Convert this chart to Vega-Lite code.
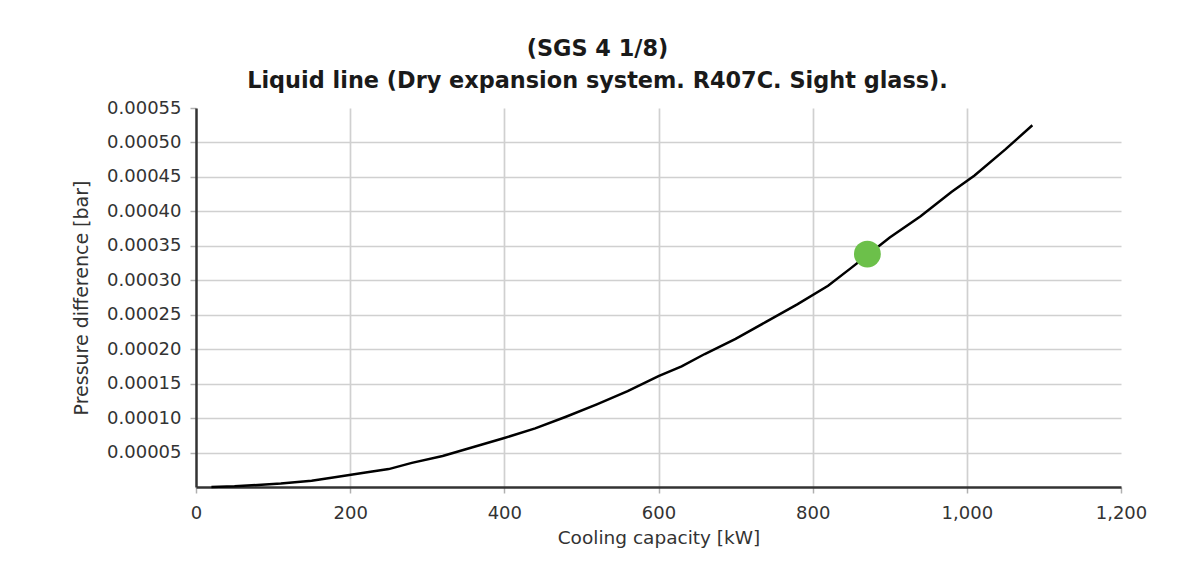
{
  "$schema": "https://vega.github.io/schema/vega-lite/v6.json",
  "autosize": "none",
  "width": 925,
  "height": 379,
  "padding": {"left": 196, "top": 108, "right": 60, "bottom": 86},
  "background": "white",
  "title": {
    "text": ["(SGS 4 1/8)", "Liquid line (Dry expansion system. R407C. Sight glass)."],
    "font": "DejaVu Sans",
    "fontSize": 22.4,
    "fontWeight": "bold",
    "color": "#1a1a1a",
    "lineHeight": 32,
    "anchor": "middle",
    "frame": "group",
    "dx": -61,
    "offset": 7
  },
  "config": {
    "view": {"stroke": null},
    "axis": {
      "labelFont": "DejaVu Sans",
      "titleFont": "DejaVu Sans",
      "labelFontSize": 18,
      "titleFontSize": 18.5,
      "titleFontWeight": "normal",
      "labelColor": "#333",
      "titleColor": "#333",
      "domainColor": "#333",
      "domainWidth": 2.5,
      "tickColor": "#b0b0b0",
      "tickWidth": 1.5,
      "tickSize": 6,
      "gridColor": "#d0d0d0",
      "gridWidth": 1.7,
      "labelOverlap": false,
      "labelFlush": false
    }
  },
  "data": {
    "values": [
      {"capacity": 20, "dp": 0.0},
      {"capacity": 50, "dp": 0.000001},
      {"capacity": 80, "dp": 0.000003},
      {"capacity": 110, "dp": 0.000005},
      {"capacity": 150, "dp": 0.000009},
      {"capacity": 180, "dp": 0.000014},
      {"capacity": 220, "dp": 0.000021},
      {"capacity": 250, "dp": 0.000026},
      {"capacity": 280, "dp": 0.000035},
      {"capacity": 320, "dp": 0.000045},
      {"capacity": 360, "dp": 0.000058},
      {"capacity": 400, "dp": 0.000071},
      {"capacity": 440, "dp": 0.000085},
      {"capacity": 480, "dp": 0.000102},
      {"capacity": 520, "dp": 0.00012},
      {"capacity": 560, "dp": 0.000139},
      {"capacity": 600, "dp": 0.000161},
      {"capacity": 630, "dp": 0.000175},
      {"capacity": 660, "dp": 0.000193},
      {"capacity": 700, "dp": 0.000215},
      {"capacity": 740, "dp": 0.00024},
      {"capacity": 780, "dp": 0.000265},
      {"capacity": 820, "dp": 0.000292},
      {"capacity": 850, "dp": 0.000318},
      {"capacity": 900, "dp": 0.000362},
      {"capacity": 940, "dp": 0.000393},
      {"capacity": 980, "dp": 0.000428},
      {"capacity": 1010, "dp": 0.000452},
      {"capacity": 1050, "dp": 0.00049},
      {"capacity": 1085, "dp": 0.000525}
    ]
  },
  "layer": [
    {
      "mark": {"type": "line", "color": "#000000", "strokeWidth": 2.5, "interpolate": "linear"},
      "encoding": {
        "x": {
          "field": "capacity",
          "type": "quantitative",
          "scale": {"domain": [0, 1200], "nice": false},
          "axis": {
            "title": "Cooling capacity [kW]",
            "values": [0, 200, 400, 600, 800, 1000, 1200],
            "tickCount": 7,
            "format": ",d",
            "labelPadding": 11,
            "titlePadding": 6,
            "gridOpacity": {"condition": {"test": "datum.value == 0 || datum.value == 1200", "value": 0}, "value": 1}
          }
        },
        "y": {
          "field": "dp",
          "type": "quantitative",
          "scale": {"domain": [0, 0.00055], "nice": false},
          "axis": {
            "title": "Pressure difference [bar]",
            "titleFontSize": 19,
            "values": [0, 0.00005, 0.0001, 0.00015, 0.0002, 0.00025, 0.0003, 0.00035, 0.0004, 0.00045, 0.0005, 0.00055],
            "tickCount": 12,
            "labelExpr": "datum.value == 0 ? '' : format(datum.value, '.5f')",
            "labelPadding": 9,
            "titlePadding": 15,
            "tickOpacity": {"condition": {"test": "datum.value == 0", "value": 0}, "value": 1},
            "gridOpacity": {"condition": {"test": "datum.value == 0 || datum.value > 0.000549", "value": 0}, "value": 1}
          }
        }
      }
    },
    {
      "data": {"values": [{"capacity": 871, "dp": 0.000338}]},
      "mark": {"type": "point", "filled": true, "opacity": 1, "color": "#6cc04a", "size": 720},
      "encoding": {
        "x": {"field": "capacity", "type": "quantitative"},
        "y": {"field": "dp", "type": "quantitative"}
      }
    }
  ]
}
